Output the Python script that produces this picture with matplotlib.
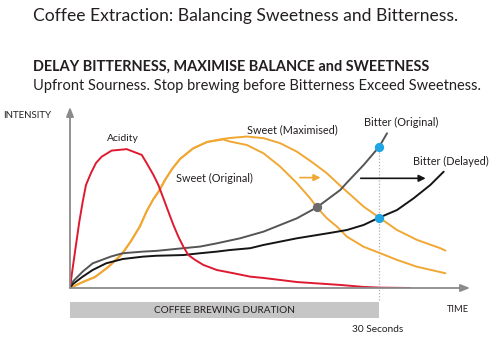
import matplotlib.pyplot as plt

plt.rcParams['font.family'] = ['Lato', 'DejaVu Sans']
plt.rcParams['lines.solid_joinstyle'] = 'round'
plt.rcParams['lines.solid_capstyle'] = 'round'

# -------------------
# Curve data (time in s, intensity 0-100)
# -------------------
acid_x = [0, 0.26, 0.58, 0.90, 1.23, 1.55, 2.04, 2.52, 3.07, 4.04, 5.50, 6.96, 7.44, 8.09, 8.57,
          9.06, 9.54, 10.03, 10.51, 11.0, 11.48, 12.14, 12.94, 14.24, 15.85, 17.48, 18.74, 22.04,
          26.21, 28.45, 30.1, 33.0]
acid_y = [0, 11.1, 23.9, 36.7, 47.8, 57.2, 63.9, 69.4, 72.9, 76.3, 77.1, 73.9, 69.3, 62.8, 57.2,
          49.8, 42.4, 35.0, 28.5, 22.9, 18.3, 15.6, 12.8, 10.0, 8.2, 6.3, 5.6, 3.3,
          1.7, 0.6, 0.2, 0]

# rising part shared by both sweetness curves
sweet_rise_x = [0, 1.23, 2.43, 3.72, 5.05, 5.92, 6.80, 7.45, 8.09, 8.64, 9.22, 9.90, 10.68, 11.94, 13.30]
sweet_rise_y = [0, 3.3, 6.1, 11.7, 18.9, 26.1, 34.4, 42.8, 49.4, 53.9, 60.0, 66.1, 71.7, 77.5, 81.1]

sweet_orig_x = sweet_rise_x + [14.85, 15.53, 17.16, 18.77, 20.39, 22.01, 23.30, 23.95, 24.92, 25.89,
                               26.86, 28.48, 30.10, 31.72, 33.66, 36.41]
sweet_orig_y = sweet_rise_y + [82.5, 81.3, 79.4, 74.8, 67.4, 58.2, 49.8, 44.8, 38.7, 34.1,
                               28.5, 22.9, 19.3, 15.6, 11.8, 8.2]

sweet_max_x = sweet_rise_x + [14.85, 15.53, 17.16, 18.77, 20.39, 22.01, 23.62, 24.92, 25.89, 26.86,
                              28.48, 30.0, 31.72, 33.66, 35.92, 36.41]
sweet_max_y = sweet_rise_y + [82.8, 83.3, 84.1, 83.2, 80.4, 75.7, 69.3, 63.7, 58.5, 53.5,
                              45.2, 39.1, 32.2, 26.7, 22.1, 20.8]

bitter_orig_x = [0, 0.26, 1.23, 2.20, 3.98, 5.12, 7.06, 8.35, 11.0, 12.62, 14.24, 16.50, 18.77,
                 22.01, 23.95, 26.21, 26.86, 28.48, 30.0, 30.75]
bitter_orig_y = [0, 3.5, 9.1, 13.7, 17.5, 19.3, 20.2, 20.6, 22.1, 23.0, 24.8, 27.6, 31.3,
                 38.7, 44.8, 54.4, 58.5, 68.3, 78.5, 85.9]

bitter_del_x = [0, 0.26, 1.23, 2.20, 3.50, 5.12, 7.06, 8.35, 11.0, 12.62, 14.24, 15.53, 17.48,
                18.77, 22.01, 25.24, 26.86, 28.48, 30.0, 31.72, 33.33, 34.95, 36.25]
bitter_del_y = [0, 2.1, 6.3, 10.0, 13.7, 16.1, 17.4, 17.9, 18.3, 19.3, 20.2, 21.1, 22.1,
                23.9, 27.6, 30.6, 32.2, 35.0, 39.1, 43.3, 49.8, 57.2, 64.6]

stop_time = 30
cross_x, cross_y = 23.95, 44.8       # bitter (orig) meets sweet (orig)
blue_y = [78.5, 39.1]                # bitter (orig) / bitter (delayed) at stop time

RED = '#df1a30'
ORANGE = '#f1a733'
GREY = '#555555'
BLACK = '#151515'
BLUE = '#1ea6e4'
TXT = '#231f20'

fig = plt.figure(figsize=(5, 3.37), dpi=100)
ax = fig.add_axes([70 / 500, 49 / 337, 400 / 500, 181 / 337])
ax.set_xlim(0, 38.8)
ax.set_ylim(0, 100.5)
ax.axis('off')

# axis arrows
arrow_kw = dict(arrowstyle='-|>,head_width=0.22,head_length=0.55', color='#8a8a8a', lw=1.3,
                shrinkA=0, shrinkB=0)
ax.annotate('', xy=(1, 0), xytext=(0, 0), xycoords='axes fraction', arrowprops=arrow_kw)
ax.annotate('', xy=(0, 1), xytext=(0, 0), xycoords='axes fraction', arrowprops=arrow_kw)

# brewing duration bar
ax.barh(-12.2, stop_time, height=8.9, left=0, color='#c6c6c6', clip_on=False)
ax.text(stop_time / 2, -12.4, 'COFFEE BREWING DURATION', ha='center', va='center',
        fontsize=7.2, color=TXT, clip_on=False)
ax.vlines(stop_time, -6.7, blue_y[0], colors='#b0b0b0', linestyles=(0, (1, 1.5)), lw=0.9, clip_on=False)

# curves
lw = 1.4
ax.plot(sweet_orig_x, sweet_orig_y, color=ORANGE, lw=lw)
ax.plot(sweet_max_x, sweet_max_y, color=ORANGE, lw=lw)
ax.plot(bitter_orig_x, bitter_orig_y, color=GREY, lw=lw)
ax.plot(bitter_del_x, bitter_del_y, color=BLACK, lw=lw)
ax.plot(acid_x, acid_y, color=RED, lw=lw)

ax.scatter([stop_time, stop_time], blue_y, s=32, color=BLUE, zorder=5, clip_on=False)
ax.scatter([cross_x], [cross_y], s=32, color='#6b6b6b', zorder=5)

# shift arrows
ax.annotate('', xy=(24.3, 61.3), xytext=(22.3, 61.3),
            arrowprops=dict(arrowstyle='-|>,head_width=0.2,head_length=0.4', color=ORANGE, lw=1.2,
                            shrinkA=0, shrinkB=0))
ax.annotate('', xy=(34.5, 60.9), xytext=(28.2, 60.9),
            arrowprops=dict(arrowstyle='-|>,head_width=0.2,head_length=0.4', color=BLACK, lw=1.2,
                            shrinkA=0, shrinkB=0))

# curve labels
lab = dict(fontsize=7.8, color=TXT, ha='center', va='center', clip_on=False)
ax.text(5.1, 82.8, 'Acidity', **dict(lab, fontsize=7.5))
ax.text(14.0, 60.6, 'Sweet (Original)', **lab)
ax.text(21.6, 87.8, 'Sweet (Maximised)', **lab)
ax.text(32.1, 91.7, 'Bitter (Original)', **lab)
ax.text(36.9, 70.0, 'Bitter (Delayed)', **lab)
ax.text(36.6, -11.7, 'TIME', fontsize=6.7, color=TXT, ha='left', va='center', clip_on=False)
ax.text(stop_time - 0.2, -22.8, '30 Seconds', **dict(lab, fontsize=7.3))

fig.text(3 / 500, 1 - 116 / 337, 'INTENSITY', fontsize=7.0, color=TXT, ha='left', va='center')

# titles
fig.text(33 / 500, 1 - 16 / 337, 'Coffee Extraction: Balancing Sweetness and Bitterness.',
         fontsize=12.6, color=TXT, ha='left', va='center')
fig.text(33 / 500, 1 - 67 / 337, 'DELAY BITTERNESS, MAXIMISE BALANCE and SWEETNESS',
         fontsize=10.45, fontweight='bold', color=TXT, ha='left', va='center')
fig.text(33 / 500, 1 - 86 / 337, 'Upfront Sourness. Stop brewing before Bitterness Exceed Sweetness.',
         fontsize=10.55, color=TXT, ha='left', va='center')

fig.savefig('out.png', dpi=100, facecolor='white')
